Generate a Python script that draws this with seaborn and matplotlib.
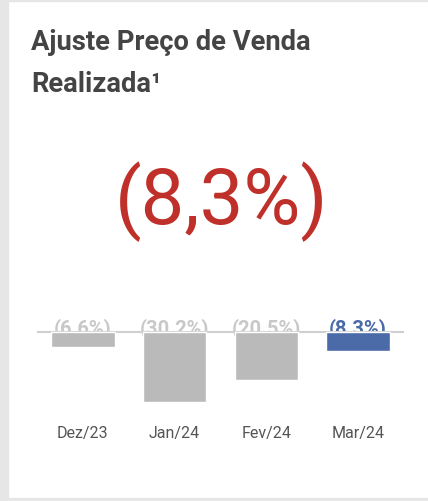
import numpy as np
import pandas as pd
import matplotlib.pyplot as plt
import seaborn as sns
from matplotlib.patches import Rectangle

# Data
months = ["Dez/23", "Jan/24", "Fev/24", "Mar/24"]
values = [-6.6, -30.2, -20.5, -8.3]
labels = ["(6.6%)", "(30.2%)", "(20.5%)", "(8.3%)"]
bar_colors = ["#bababa", "#bababa", "#bababa", "#4a6aa8"]
label_colors = ["#c8c8c8", "#c8c8c8", "#c8c8c8", "#4a6aa8"]
headline = "(8,3%)"

sns.set_theme(style="white")
plt.rcParams["font.family"] = ["Roboto", "DejaVu Sans"]

W, H = 428, 502
fig = plt.figure(figsize=(W / 100, H / 100), dpi=100)
fig.patch.set_facecolor("white")

# card border (light gray frame on the left, top and bottom)
gray = "#e6e6e6"
fig.patches.append(Rectangle((0, 0), 8 / W, 1, transform=fig.transFigure, color=gray, zorder=0))
fig.patches.append(Rectangle((0, 1 - 2 / H), 1, 2 / H, transform=fig.transFigure, color=gray, zorder=0))
fig.patches.append(Rectangle((0, 0), 1, 3 / H, transform=fig.transFigure, color=gray, zorder=0))

# title
fig.text(31 / W, 1 - 42 / H, "Ajuste Preço de Venda", fontsize=19.7, fontweight="bold",
         color="#444444", va="center", ha="left")
fig.text(31 / W, 1 - 84 / H, "Realizada¹", fontsize=19.7, fontweight="bold",
         color="#444444", va="center", ha="left")

# headline number
fig.text(222 / W, 1 - 202 / H, headline, fontsize=56, color="#c0302b",
         va="center", ha="center")

# bar chart
ax_left, ax_right = 37, 404
ax_top, ax_bot = 300, 415
ax = fig.add_axes([ax_left / W, 1 - ax_bot / H, (ax_right - ax_left) / W, (ax_bot - ax_top) / H])
ax.set_facecolor("none")
df = pd.DataFrame({"month": months, "value": values})
sns.barplot(data=df, x="month", y="value", hue="month", palette=bar_colors,
            legend=False, width=0.69, ax=ax, zorder=3, saturation=1)

px_per_unit = 2.32
ax.set_ylim(-(ax_bot - 333) / px_per_unit, (333 - ax_top) / px_per_unit)
ax.set_xlim(-0.5, 3.5)
ax.axhline(0, color="#cfcfcf", lw=1.5, zorder=2)

for i, (lab, c) in enumerate(zip(labels, label_colors)):
    ax.text(i, -1 / px_per_unit, lab, ha="center", va="baseline", fontsize=14.5,
            fontweight="bold", color=c, zorder=1)

for s in ax.spines.values():
    s.set_visible(False)
ax.set_yticks([])
ax.set_xlabel("")
ax.set_ylabel("")
ax.tick_params(axis="x", length=0, pad=8, labelsize=11.5, labelcolor="#555555")

fig.savefig("out.png", dpi=100)
